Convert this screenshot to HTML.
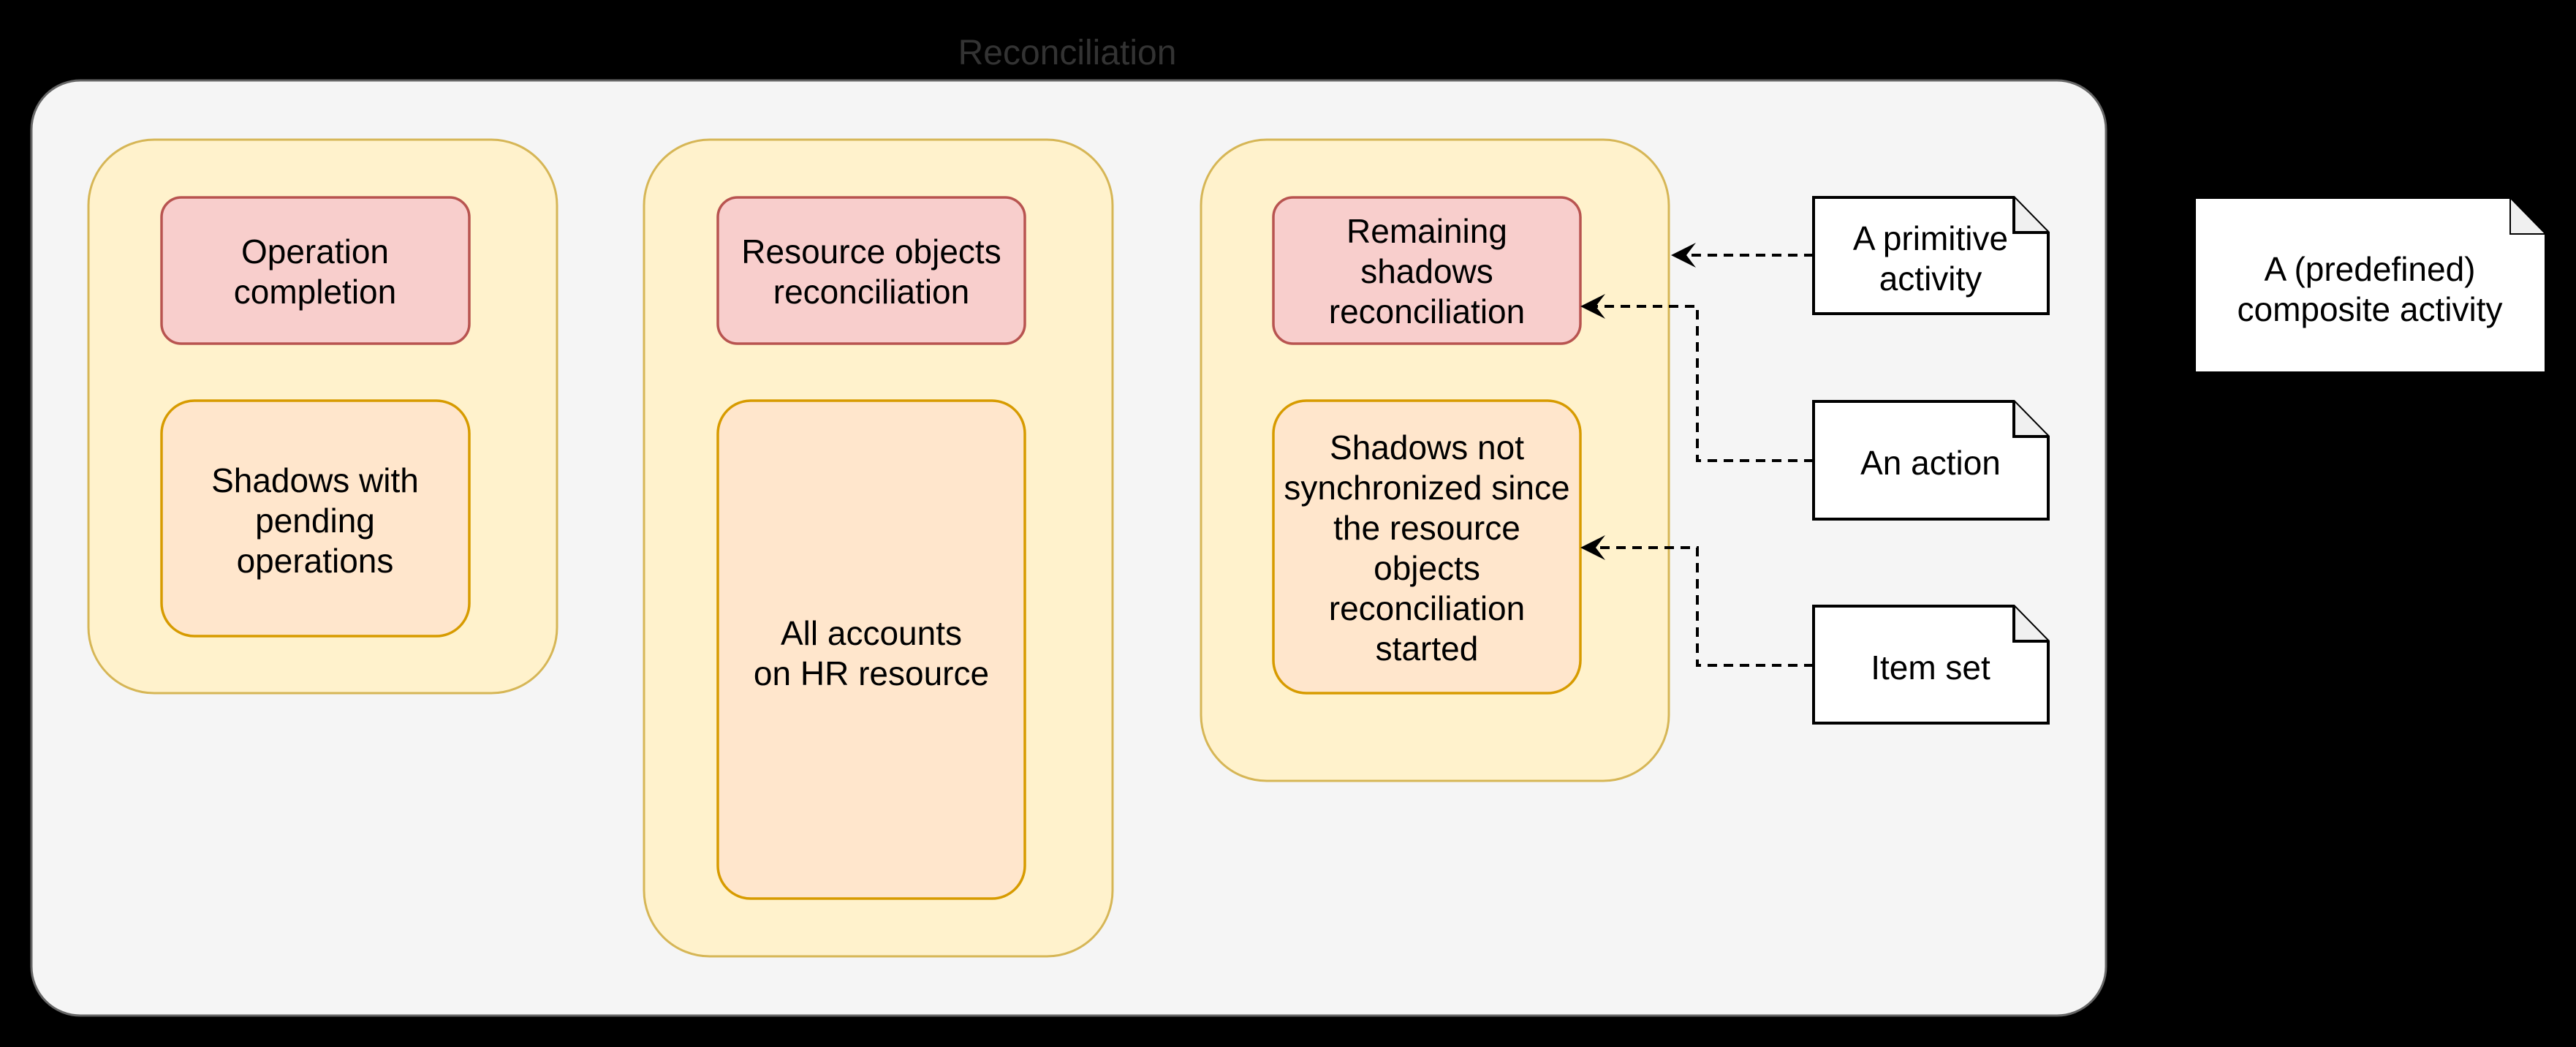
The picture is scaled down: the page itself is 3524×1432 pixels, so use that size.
<!DOCTYPE html>
<html><head><meta charset="utf-8"><style>
html,body{margin:0;padding:0;background:#000;}
svg{display:block;}
text{font-family:"Liberation Sans",Arial,sans-serif;font-size:46px;fill:#000;text-anchor:middle;}
</style></head><body>
<svg width="3524" height="1432" viewBox="0 0 3524 1432" xmlns="http://www.w3.org/2000/svg">
<rect x="0" y="0" width="3524" height="1432" fill="#000"/>
<text x="1460" y="88" style="fill:#333;font-size:48px">Reconciliation</text>
<rect x="43" y="110" width="2838" height="1279" rx="67" fill="#f5f5f5" stroke="#666" stroke-width="3"/>

<g fill="#fff2cc" stroke="#d6b656" stroke-width="3">
<rect x="121" y="191" width="641" height="757" rx="90"/>
<rect x="881" y="191" width="641" height="1117" rx="90"/>
<rect x="1643" y="191" width="640" height="877" rx="90"/>
</g>
<g fill="#f8cecc" stroke="#b85450" stroke-width="3.5">
<rect x="221" y="270" width="421" height="200" rx="27"/>
<rect x="982" y="270" width="420" height="200" rx="27"/>
<rect x="1742" y="270" width="420" height="200" rx="27"/>
</g>
<g fill="#ffe6cc" stroke="#d79b00" stroke-width="3.5">
<rect x="221" y="548" width="421" height="322" rx="45"/>
<rect x="982" y="548" width="420" height="681" rx="45"/>
<rect x="1742" y="548" width="420" height="400" rx="45"/>
</g>

<text x="431" y="360">Operation</text>
<text x="431" y="415">completion</text>
<text x="1192" y="360">Resource objects</text>
<text x="1192" y="415">reconciliation</text>
<text x="1952" y="332">Remaining</text>
<text x="1952" y="387">shadows</text>
<text x="1952" y="442">reconciliation</text>

<text x="431" y="673">Shadows with</text>
<text x="431" y="728">pending</text>
<text x="431" y="783">operations</text>
<text x="1192" y="882">All accounts</text>
<text x="1192" y="937">on HR resource</text>
<text x="1952" y="628">Shadows not</text>
<text x="1952" y="683">synchronized since</text>
<text x="1952" y="738">the resource</text>
<text x="1952" y="793">objects</text>
<text x="1952" y="848">reconciliation</text>
<text x="1952" y="903">started</text>

<g fill="#fff" stroke="#000" stroke-width="4">
<path d="M2481 270 H2755 L2802 318 V429 H2481 Z"/>
<path d="M2755 270 V318 H2802" fill="#f0f0f0"/>
<path d="M2481 549 H2755 L2802 597 V710 H2481 Z"/>
<path d="M2755 549 V597 H2802" fill="#f0f0f0"/>
<path d="M2481 829 H2755 L2802 877 V989 H2481 Z"/>
<path d="M2755 829 V877 H2802" fill="#f0f0f0"/>
<path d="M3004 272 H3434 L3481 320 V508 H3004 Z" stroke="none"/>
<path d="M3434 272 V320 H3481" fill="#f0f0f0" stroke-width="2"/>
</g>
<text x="2641" y="342">A primitive</text>
<text x="2641" y="397">activity</text>
<text x="2641" y="649">An action</text>
<text x="2641" y="929">Item set</text>
<text x="3242" y="384">A (predefined)</text>
<text x="3242" y="439">composite activity</text>

<g fill="none" stroke="#000" stroke-width="4" stroke-dasharray="13 9">
<path d="M2481 349 H2305"/>
<path d="M2481 630 H2322 V419 H2182"/>
<path d="M2481 910 H2322 V749 H2182"/>
</g>
<g fill="#000">
<path d="M2286 349 L2320 332 L2307 349 L2320 366 Z"/>
<path d="M2162 419 L2196 402 L2183 419 L2196 436 Z"/>
<path d="M2162 749 L2196 732 L2183 749 L2196 766 Z"/>
</g>
</svg>
</body></html>
